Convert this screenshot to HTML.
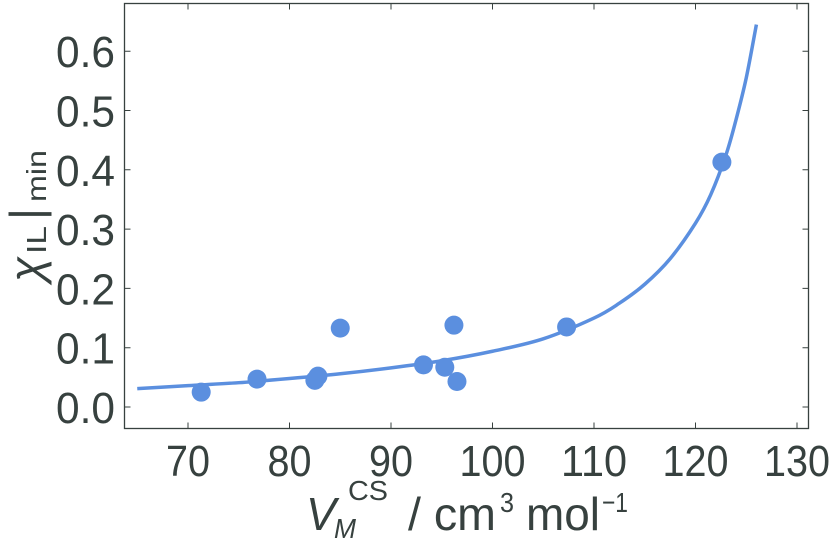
<!DOCTYPE html>
<html><head><meta charset="utf-8"><style>
body{margin:0;background:#fff;width:832px;height:540px;overflow:hidden}
svg text{font-family:"Liberation Sans Narrow","Liberation Sans",sans-serif;fill:#37413f}
</style></head><body>
<svg id="chart" width="832" height="540" xmlns="http://www.w3.org/2000/svg">
<rect x="124.5" y="3.5" width="684" height="425" fill="none" stroke="#37413f" stroke-width="1.3"/>
<g id="ticks"></g><g id="curve"></g><g id="pts"></g>
<g transform="translate(42,282) rotate(-90)">
<text x="0" y="0" font-size="46" font-style="italic" font-family="Liberation Serif">χ</text>
<text x="28" y="4" font-size="28" textLength="28" lengthAdjust="spacingAndGlyphs">IL</text>
<text x="62" y="0" font-size="46" textLength="12" lengthAdjust="spacingAndGlyphs">|</text>
<text x="80" y="4" font-size="28" textLength="52" lengthAdjust="spacingAndGlyphs">min</text>
</g>
<g>
<text x="306" y="530" font-size="46" font-style="italic" textLength="30" lengthAdjust="spacingAndGlyphs">V</text>
<text x="334" y="538" font-size="28" font-style="italic" textLength="22" lengthAdjust="spacingAndGlyphs">M</text>
<text x="348" y="500" font-size="28" textLength="40" lengthAdjust="spacingAndGlyphs">CS</text>
<text x="408" y="530" font-size="46" textLength="88" lengthAdjust="spacingAndGlyphs">/ cm</text>
<text x="500" y="512" font-size="28" textLength="14" lengthAdjust="spacingAndGlyphs">3</text>
<text x="526" y="530" font-size="46" textLength="74" lengthAdjust="spacingAndGlyphs">mol</text>
<text x="602" y="512" font-size="28" textLength="26" lengthAdjust="spacingAndGlyphs">−1</text>
</g>
</svg>
<script>
const xTicks=[70,80,90,100,110,120,130];
const yTicks=[0.0,0.1,0.2,0.3,0.4,0.5,0.6];
const yTickLabels=["0.0","0.1","0.2","0.3","0.4","0.5","0.6"];
const ptX=[71.3,76.8,82.5,82.8,85.0,93.2,95.3,96.2,96.5,107.3,122.6];
const ptY=[0.025,0.047,0.045,0.052,0.133,0.071,0.067,0.138,0.043,0.135,0.413];
const curveX=[65,70,75,80,85,90,95,100,105,110,112.5,115,117.5,120,121.5,123,124,125,126];
const curveY=[0.031,0.036,0.041,0.048,0.056,0.066,0.078,0.094,0.115,0.150,0.175,0.207,0.250,0.310,0.358,0.425,0.485,0.555,0.645];
const sx=v=>188+(v-70)*10.15;
const sy=v=>407-v*593;
const NS="http://www.w3.org/2000/svg";
const tg=document.getElementById('ticks');
xTicks.forEach(t=>{
  const l=document.createElementNS(NS,'path');
  
  
  l.setAttribute('d',`M${sx(t)},428.5v-6M${sx(t)},3.5v6`);
  l.setAttribute('stroke','#37413f');l.setAttribute('stroke-width','1');
  tg.appendChild(l);
  const tx=document.createElementNS(NS,'text');
  
  
  const s=String(t);
  tx.setAttribute('x',sx(t)-(s.length*22)/2);tx.setAttribute('y',476);tx.setAttribute('font-size','44');
  tx.setAttribute('textLength',s.length*22);tx.setAttribute('lengthAdjust','spacingAndGlyphs');
  tx.textContent=s;tg.appendChild(tx);
});
yTicks.forEach((t,i)=>{
  const l=document.createElementNS(NS,'path');
  
  
  l.setAttribute('d',`M124.5,${sy(t)}h6M808.5,${sy(t)}h-6`);
  l.setAttribute('stroke','#37413f');l.setAttribute('stroke-width','1');
  tg.appendChild(l);
  const tx=document.createElementNS(NS,'text');
  
  
  tx.setAttribute('x',56);tx.setAttribute('y',sy(t)+16);tx.setAttribute('font-size','44');
  tx.setAttribute('textLength',59);tx.setAttribute('lengthAdjust','spacingAndGlyphs');
  tx.textContent=yTickLabels[i];tg.appendChild(tx);
});
const p=document.createElementNS(NS,'path');


let d='';
for(let i=0;i<curveX.length;i++){
  const x0=sx(curveX[i]),y0=sy(curveY[i]);
  if(i===0){d+=`M${x0},${y0}`;continue;}
  const a=Math.max(i-2,0),b=i-1,c=i,e=Math.min(i+1,curveX.length-1);
  const P=k=>[sx(curveX[k]),sy(curveY[k])];
  const [ax,ay]=P(a),[bx,by]=P(b),[cx,cy]=P(c),[ex,ey]=P(e);
  d+=`C${bx+(cx-ax)/6},${by+(cy-ay)/6} ${cx-(ex-bx)/6},${cy-(ey-by)/6} ${cx},${cy}`;
}
p.setAttribute('d',d);p.setAttribute('fill','none');p.setAttribute('stroke','#5b8fdf');p.setAttribute('stroke-width','3.5');
document.getElementById('curve').appendChild(p);
const pg=document.getElementById('pts');
ptX.forEach((x,i)=>{
  const c=document.createElementNS(NS,'circle');
  
  
  c.setAttribute('cx',sx(x));c.setAttribute('cy',sy(ptY[i]));c.setAttribute('r',9.5);c.setAttribute('fill','#5b8fdf');
  pg.appendChild(c);
});
</script>
</body></html>
